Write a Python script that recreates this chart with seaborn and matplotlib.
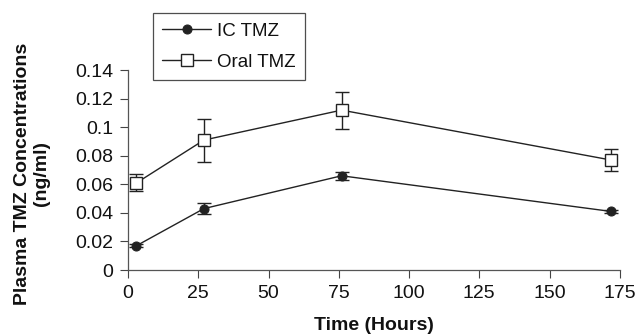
import pandas as pd
import matplotlib
matplotlib.use("Agg")
import matplotlib.pyplot as plt
import seaborn as sns

# Values
time_hours = [3, 27, 76, 172]
ic_tmz = [0.017, 0.043, 0.066, 0.041]
ic_err = [0.001, 0.004, 0.003, 0.001]
oral_tmz = [0.061, 0.091, 0.112, 0.077]
oral_err = [0.006, 0.015, 0.013, 0.0075]

x_ticks = [0, 25, 50, 75, 100, 125, 150, 175]
y_ticks = [0, 0.02, 0.04, 0.06, 0.08, 0.1, 0.12, 0.14]
y_ticklabels = ["0", "0.02", "0.04", "0.06", "0.08", "0.1", "0.12", "0.14"]

df = pd.DataFrame({
    "Time": time_hours * 2,
    "Conc": ic_tmz + oral_tmz,
    "Group": ["IC TMZ"] * 4 + ["Oral TMZ"] * 4,
})

sns.set_style("ticks")
plt.rcParams["font.family"] = ["Liberation Sans", "DejaVu Sans"]

fig = plt.figure(figsize=(6.35, 3.34), dpi=100)
ax = fig.add_axes([0.2016, 0.1916, 0.7744, 0.5984])

# error bars first so markers sit on top
ax.errorbar(time_hours, ic_tmz, yerr=ic_err, fmt="none", ecolor="#222222",
            elinewidth=1, capsize=5, capthick=1, zorder=2)
ax.errorbar(time_hours, oral_tmz, yerr=oral_err, fmt="none", ecolor="#222222",
            elinewidth=1, capsize=5, capthick=1, zorder=2)

sns.lineplot(data=df, x="Time", y="Conc", hue="Group", style="Group",
             markers={"IC TMZ": "o", "Oral TMZ": "s"}, dashes=False,
             palette={"IC TMZ": "#222222", "Oral TMZ": "#222222"},
             linewidth=1, ax=ax, legend=False, zorder=3)

lines = ax.get_lines()
ic_line, oral_line = lines[-2], lines[-1]
ic_line.set_markersize(6.5)
ic_line.set_markerfacecolor("#222222")
ic_line.set_markeredgecolor("#222222")
oral_line.set_markersize(8.6)
oral_line.set_markerfacecolor("white")
oral_line.set_markeredgecolor("#222222")
oral_line.set_markeredgewidth(1)

ax.set_xlim(0, 175)
ax.set_ylim(0, 0.14)
ax.set_xticks(x_ticks)
ax.set_yticks(y_ticks)
ax.set_yticklabels(y_ticklabels)
ax.tick_params(labelsize=14, length=5.5, width=0.8, color="#444444",
               pad=5, labelcolor="#111111")
sns.despine(ax=ax)
for s in ["left", "bottom"]:
    ax.spines[s].set_color("#555555")
    ax.spines[s].set_linewidth(0.9)

ax.set_xlabel("Time (Hours)", fontsize=14, fontweight="bold", color="#111111")
ax.xaxis.set_label_coords(0.5, -0.235)
ax.set_ylabel("Plasma TMZ Concentrations\n(ng/ml)", fontsize=14,
              fontweight="bold", linespacing=1.15, color="#111111")
ax.yaxis.set_label_coords(-0.1585, 0.4825)

leg = fig.legend([ic_line, oral_line], ["IC TMZ", "Oral TMZ"],
                 loc="upper left", bbox_to_anchor=(0.241, 0.961),
                 prop={"size": 13.5}, frameon=True, fancybox=False,
                 handlelength=2.6, borderpad=0.5, labelspacing=0.75,
                 handletextpad=0.32, borderaxespad=0)
leg.get_frame().set_edgecolor("#222222")
leg.get_frame().set_linewidth(0.9)
for t in leg.get_texts():
    t.set_color("#111111")

fig.savefig("out.png", dpi=100)
